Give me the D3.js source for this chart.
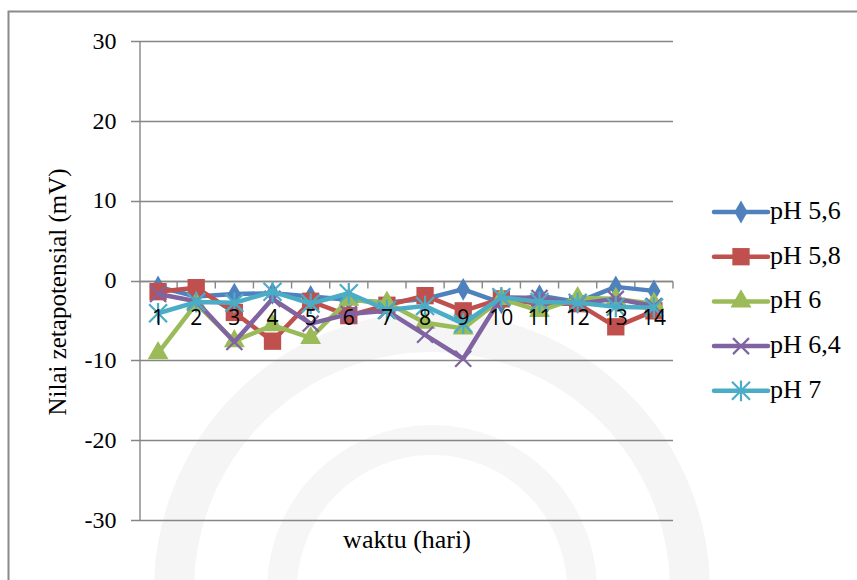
<!DOCTYPE html>
<html>
<head>
<meta charset="utf-8">
<script src="https://cdn.jsdelivr.net/npm/d3@7/dist/d3.min.js"></script>
<style>
  html, body { margin: 0; padding: 0; background: #fff; }
  svg { display: block; }
  .serif { font-family: "Liberation Serif", "Tinos", "Times New Roman", "DejaVu Serif", serif; }
  .sans { font-family: "Open Sans", "Liberation Sans", sans-serif; }
</style>
</head>
<body>
<svg id="chart" width="857" height="580"></svg>
<script>
// Zeta potential measurements per day, one array per pH level
const days = [1, 2, 3, 4, 5, 6, 7, 8, 9, 10, 11, 12, 13, 14];
const ph56 = [-0.8, -2.0, -1.7, -1.6, -2.0, -2.4, -2.8, -2.3, -1.1, -2.8, -1.9, -2.7, -0.8, -1.3];
const ph58 = [-1.4, -0.9, -4.0, -7.6, -2.6, -4.4, -3.1, -1.9, -3.8, -2.3, -2.9, -2.9, -5.8, -3.8];
const ph6  = [-9.1, -2.9, -7.6, -5.6, -7.2, -2.4, -2.8, -5.3, -6.0, -2.3, -3.8, -2.2, -2.3, -2.9];
const ph64 = [-1.7, -2.6, -7.7, -2.3, -5.4, -4.2, -3.8, -6.8, -9.8, -2.1, -2.2, -2.9, -2.3, -3.2];
const ph7  = [-4.1, -2.7, -2.8, -1.4, -2.9, -1.6, -3.7, -3.2, -5.4, -2.1, -2.7, -2.8, -3.3, -3.4];
const seriesNames = ["pH 5,6", "pH 5,8", "pH 6", "pH 6,4", "pH 7"];
const yTicks = [-30, -20, -10, 0, 10, 20, 30];

const seriesValues = [ph56, ph58, ph6, ph64, ph7];
const colors = ["#4F81BD", "#C0504D", "#9BBB59", "#8064A2", "#4BACC6"];
const markers = ["diamond", "square", "triangle", "x", "star"];

const svg = d3.select("#chart");
const W = 857, H = 580;

// Plot area
const plotLeft = 139, plotRight = 673, plotTop = 41, plotBottom = 520;
const x = d3.scaleBand().domain(days).range([plotLeft, plotRight]);
const y = d3.scaleLinear().domain([-30, 30]).range([plotBottom, plotTop]);

svg.append("rect").attr("width", W).attr("height", H).attr("fill", "#fff");

// Faint emblem in the background
const bg = svg.append("g").attr("fill", "none");
bg.append("circle").attr("cx", 432).attr("cy", 590).attr("r", 258)
  .attr("stroke", "#f5f5f5").attr("stroke-width", 40);
bg.append("circle").attr("cx", 432).attr("cy", 590).attr("r", 150)
  .attr("stroke", "#f6f6f6").attr("stroke-width", 30);

// Outer frame
svg.append("rect")
  .attr("x", 8.5).attr("y", 11.5)
  .attr("width", W + 20).attr("height", H + 20)
  .attr("fill", "none").attr("stroke", "#8a8a8a").attr("stroke-width", 2);

// Horizontal gridlines with tick stubs on the left
const grid = svg.append("g");
grid.selectAll("line").data(yTicks).join("line")
  .attr("x1", plotLeft - 8).attr("x2", plotRight)
  .attr("y1", d => Math.round(y(d)) + 0.5).attr("y2", d => Math.round(y(d)) + 0.5)
  .attr("stroke", "#868686").attr("stroke-width", 1.4);

// Value axis
const yAxis = d3.axisLeft(y).tickValues(yTicks).tickSize(0).tickPadding(23)
  .tickFormat(d => String(d));
const yg = svg.append("g").attr("transform", `translate(${plotLeft + 0.5},0)`).call(yAxis)
  .attr("font-family", null).attr("font-size", null);
yg.select(".domain").attr("stroke", "#868686").attr("stroke-width", 1.4);
yg.selectAll("text").attr("class", "serif")
  .style("font-size", "24px").attr("fill", "#000").attr("dy", "0.3em");

// Category axis crossing at zero
const zeroY = Math.round(y(0)) + 0.5;
const xg = svg.append("g");
xg.append("line").attr("x1", plotLeft).attr("x2", plotRight)
  .attr("y1", zeroY).attr("y2", zeroY)
  .attr("stroke", "#868686").attr("stroke-width", 1.4);
const bounds = days.map(d => x(d) + x.bandwidth());
xg.selectAll("line.tk").data(bounds).join("line").attr("class", "tk")
  .attr("x1", d => d).attr("x2", d => d)
  .attr("y1", zeroY).attr("y2", zeroY + 7)
  .attr("stroke", "#868686").attr("stroke-width", 1.4);

// Marker symbols
function markerPath(type) {
  switch (type) {
    case "diamond": return d3.symbol(d3.symbolDiamond, 150)();
    case "square": return d3.symbol(d3.symbolSquare, 300)();
    case "triangle": return d3.symbol(d3.symbolTriangle, 190)();
    default: return null;
  }
}
function drawMarker(g, type, color, cx, cy) {
  const m = g.append("g").attr("transform", `translate(${cx},${cy})`);
  if (type === "x") {
    const s = 8;
    m.append("path").attr("d", `M${-s},${-s}L${s},${s}M${-s},${s}L${s},${-s}`)
      .attr("stroke", color).attr("stroke-width", 2.2).attr("fill", "none");
  } else if (type === "star") {
    const s = 9;
    m.append("path")
      .attr("d", `M${-s},${-s}L${s},${s}M${-s},${s}L${s},${-s}M0,${-s * 1.15}L0,${s * 1.15}`)
      .attr("stroke", color).attr("stroke-width", 2.2).attr("fill", "none");
  } else {
    m.append("path").attr("d", markerPath(type)).attr("fill", color);
  }
}

// Series lines and markers
const line = d3.line().x((d, i) => x(days[i]) + x.bandwidth() / 2).y(d => y(d));
const plot = svg.append("g");
seriesValues.forEach((vals, si) => {
  const g = plot.append("g");
  g.append("path").datum(vals).attr("d", line)
    .attr("fill", "none").attr("stroke", colors[si])
    .attr("stroke-width", 4.5).attr("stroke-linejoin", "round").attr("stroke-linecap", "round");
  vals.forEach((v, i) => drawMarker(g, markers[si], colors[si], x(days[i]) + x.bandwidth() / 2, y(v)));
});

// Category labels drawn over the data
svg.append("g").selectAll("text").data(days).join("text")
  .attr("class", "sans")
  .attr("x", d => x(d) + x.bandwidth() / 2).attr("y", zeroY + 43)
  .attr("text-anchor", "middle")
  .style("font-size", "21px").attr("fill", "#000")
  .text(d => d);

// Axis titles
svg.append("text").attr("class", "serif")
  .attr("transform", "translate(66,292) rotate(-90)")
  .attr("text-anchor", "middle")
  .style("font-size", "25px").attr("fill", "#000")
  .text("Nilai zetapotensial (mV)");
svg.append("text").attr("class", "serif")
  .attr("x", 407).attr("y", 548).attr("text-anchor", "middle")
  .style("font-size", "26px").attr("fill", "#000")
  .text("waktu (hari)");

// Legend
const legend = svg.append("g");
seriesNames.forEach((name, i) => {
  const ly = 212 + i * 44.7;
  const g = legend.append("g");
  g.append("line").attr("x1", 714).attr("x2", 768).attr("y1", ly).attr("y2", ly)
    .attr("stroke", colors[i]).attr("stroke-width", 4.5).attr("stroke-linecap", "round");
  drawMarker(g, markers[i], colors[i], 741, ly);
  g.append("text").attr("class", "serif").attr("x", 770).attr("y", ly + 7)
    .style("font-size", "26px").attr("fill", "#000")
    .text(name);
});
</script>
</body>
</html>
